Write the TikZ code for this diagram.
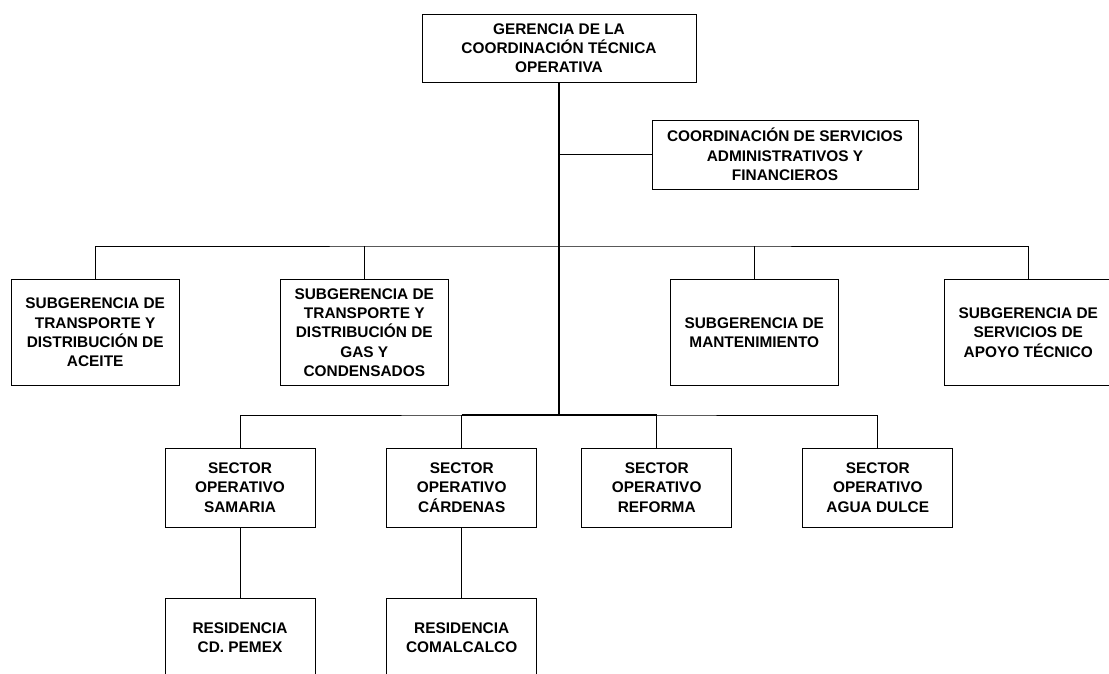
\documentclass[tikz,border=0pt]{standalone}
\usepackage{fontspec}
\setmainfont{Liberation Sans}
\begin{document}
\begin{tikzpicture}[x=1pt,y=-1pt,
  unit/.style={draw=black,line width=1pt,fill=white,inner sep=0pt,align=center,
    font=\fontsize{15.4}{19.3}\selectfont\bfseries},
  topbox/.style={unit,minimum width=274pt,minimum height=68pt},
  staffbox/.style={unit,minimum width=266pt,minimum height=69pt},
  subbox/.style={unit,minimum width=168pt,minimum height=106pt},
  secbox/.style={unit,minimum width=150pt,minimum height=79pt},
  link/.style={line width=1pt,line cap=rect},
  trunk/.style={line width=1.7pt}]
\useasboundingbox (0,0) rectangle (1109,673);
\clip (0,0) rectangle (1109,673);

% management
\node[topbox] (ger) at (559,48.2) {GERENCIA DE LA\\COORDINACIÓN TÉCNICA\\OPERATIVA};
\node[staffbox] (coord) at (785,154.5) {COORDINACIÓN DE SERVICIOS\\ADMINISTRATIVOS Y\\FINANCIEROS};

% sub-managements
\node[subbox] (s1) at (95.2,332.5) {SUBGERENCIA DE\\TRANSPORTE Y\\DISTRIBUCIÓN DE\\ACEITE};
\node[subbox] (s2) at (364.3,332.5) {SUBGERENCIA DE\\TRANSPORTE Y\\DISTRIBUCIÓN DE\\GAS Y\\CONDENSADOS};
\node[subbox] (s3) at (754.3,332.5) {SUBGERENCIA DE\\MANTENIMIENTO};
\node[subbox] (s4) at (1028.3,332.5) {SUBGERENCIA DE\\SERVICIOS DE\\APOYO TÉCNICO};

% operating sectors
\node[secbox] (o1) at (240,487.5) {SECTOR\\OPERATIVO\\SAMARIA};
\node[secbox] (o2) at (461.7,487.5) {SECTOR\\OPERATIVO\\CÁRDENAS};
\node[secbox] (o3) at (656.7,487.5) {SECTOR\\OPERATIVO\\REFORMA};
\node[secbox] (o4) at (877.8,487.5) {SECTOR\\OPERATIVO\\AGUA DULCE};

% residencies
\node[secbox] (r1) at (240,637.5) {RESIDENCIA\\CD. PEMEX};
\node[secbox] (r2) at (461.7,637.5) {RESIDENCIA\\COMALCALCO};

% junction points on the main line
\coordinate (jc) at (ger.south |- coord.west);
\coordinate (j2) at (ger.south |- 0,246);
\coordinate (j3) at (ger.south |- 0,415);

% main line and staff branch
\draw[trunk] (ger.south) -- (j3);
\draw[link] (jc) -- (coord.west);

% sub-management bar
\draw[link] (s1.north) |- (j2) -| (s4.north);
\draw[link] (s2.north) -- (s2.north |- j2);
\draw[link] (s3.north) -- (s3.north |- j2);

% sector bar
\draw[link] (o1.north) |- (j3) -| (o4.north);
\draw[trunk] (o2.north |- j3) -- (o3.north |- j3);
\draw[link] (o2.north) -- (o2.north |- j3);
\draw[link] (o3.north) -- (o3.north |- j3);

% sectors to residencies
\draw[link] (o1.south) -- (r1.north);
\draw[link] (o2.south) -- (r2.north);
\end{tikzpicture}
\end{document}
